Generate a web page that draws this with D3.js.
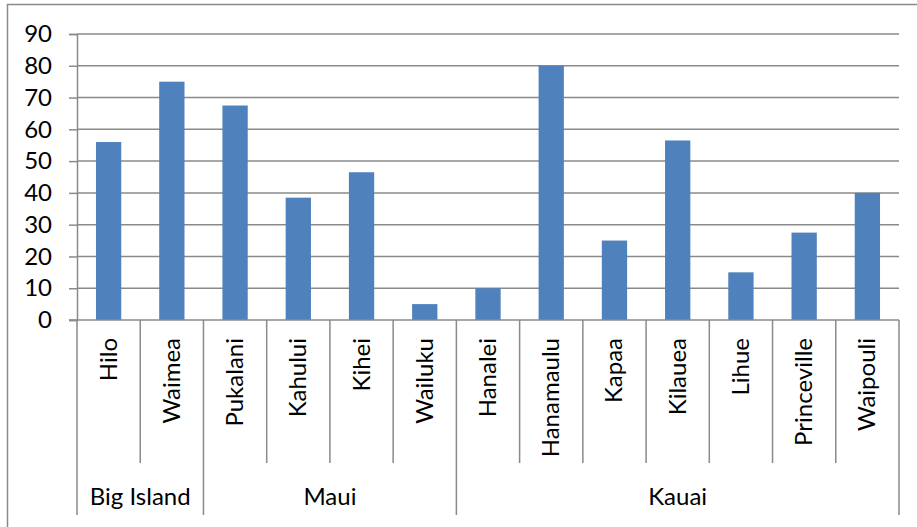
<!DOCTYPE html>
<html>
<meta charset="utf-8"/>
<head>
  <style>
    body { margin: 0; background: #fff; }
    text { font-family: Lato, "Open Sans", sans-serif; fill: #000; }
  </style>
</head>
<body>
<svg width="917" height="527"></svg>
<script src="https://d3js.org/d3.v7.min.js"></script>
<script>
// data
var cities = ["Hilo", "Waimea", "Pukalani", "Kahului", "Kihei", "Wailuku",
  "Hanalei", "Hanamaulu", "Kapaa", "Kilauea", "Lihue", "Princeville", "Waipouli"];
var values = [56, 75, 67.5, 38.5, 46.5, 5, 10, 80, 25, 56.5, 15, 27.5, 40];
var groups = ["Big Island", "Maui", "Kauai"];
var groupSizes = [2, 4, 7];
var yTicks = [0, 10, 20, 30, 40, 50, 60, 70, 80, 90];

var svg = d3.select("svg");
var plotLeft = 77, plotRight = 899, plotTop = 34, plotBottom = 320;
var gridColor = "#8a8a8a";
var fontSize = 24;

// outer chart border (runs off the picture on right and bottom)
svg.append("rect")
  .attr("x", 7.5).attr("y", 4.5)
  .attr("width", 940).attr("height", 560)
  .attr("fill", "none").attr("stroke", gridColor).attr("stroke-width", 1.5);

var x = d3.scaleBand().domain(cities).range([plotLeft, plotRight]).paddingInner(0).paddingOuter(0);
var y = d3.scaleLinear().domain([0, 90]).range([plotBottom, plotTop]);

// gridlines + y axis
var yAxis = d3.axisLeft(y).tickValues(yTicks).tickSize(8).tickPadding(17);
var gy = svg.append("g").attr("transform", "translate(" + plotLeft + ",0)").call(yAxis);
gy.select(".domain").attr("stroke", gridColor).attr("stroke-width", 1.5);
gy.selectAll(".tick line").attr("stroke", gridColor).attr("stroke-width", 1.5);
gy.selectAll(".tick text").attr("font-size", fontSize).attr("font-family", "Lato, sans-serif")
  .attr("fill", "#000");

svg.append("g").selectAll("line")
  .data(yTicks.filter(function(d) { return d > 0; }))
  .enter().append("line")
    .attr("x1", plotLeft).attr("x2", plotRight)
    .attr("y1", function(d) { return y(d); })
    .attr("y2", function(d) { return y(d); })
    .attr("stroke", gridColor).attr("stroke-width", 1.5);

// bars
var bw = x.bandwidth() / 2.5;
svg.append("g").selectAll("rect")
  .data(cities)
  .enter().append("rect")
    .attr("x", function(d) { return x(d) + (x.bandwidth() - bw) / 2; })
    .attr("y", function(d, i) { return y(values[i]); })
    .attr("width", bw)
    .attr("height", function(d, i) { return y(0) - y(values[i]); })
    .attr("fill", "#4f81bd");

// category axis
svg.append("line")
  .attr("x1", plotLeft - 8).attr("x2", plotRight)
  .attr("y1", plotBottom).attr("y2", plotBottom)
  .attr("stroke", gridColor).attr("stroke-width", 1.5);

// group boundaries
var bounds = [0];
groupSizes.forEach(function(n, i) { bounds.push(bounds[i] + n); });
function edgeX(i) { return i < cities.length ? x(cities[i]) : plotRight; }

// inner dividers (between cities)
var inner = d3.range(1, cities.length).filter(function(i) { return bounds.indexOf(i) < 0; });
svg.append("g").selectAll("line")
  .data(inner)
  .enter().append("line")
    .attr("x1", function(i) { return edgeX(i); })
    .attr("x2", function(i) { return edgeX(i); })
    .attr("y1", plotBottom).attr("y2", 463)
    .attr("stroke", gridColor).attr("stroke-width", 1.5);

svg.append("g").selectAll("line")
  .data(bounds)
  .enter().append("line")
    .attr("x1", function(i) { return edgeX(i); })
    .attr("x2", function(i) { return edgeX(i); })
    .attr("y1", plotBottom).attr("y2", 515)
    .attr("stroke", gridColor).attr("stroke-width", 1.5);

// city labels
svg.append("g").selectAll("text")
  .data(cities)
  .enter().append("text")
    .attr("transform", function(d) {
      return "translate(" + (x(d) + x.bandwidth() / 2 + 8) + ",338) rotate(-90)";
    })
    .attr("text-anchor", "end")
    .attr("font-size", fontSize)
    .text(function(d) { return d; });

// group labels
svg.append("g").selectAll("text")
  .data(groups)
  .enter().append("text")
    .attr("x", function(d, i) { return (edgeX(bounds[i]) + edgeX(bounds[i + 1])) / 2; })
    .attr("y", 505)
    .attr("text-anchor", "middle")
    .attr("font-size", fontSize)
    .text(function(d) { return d; });
</script>
</body>
</html>
